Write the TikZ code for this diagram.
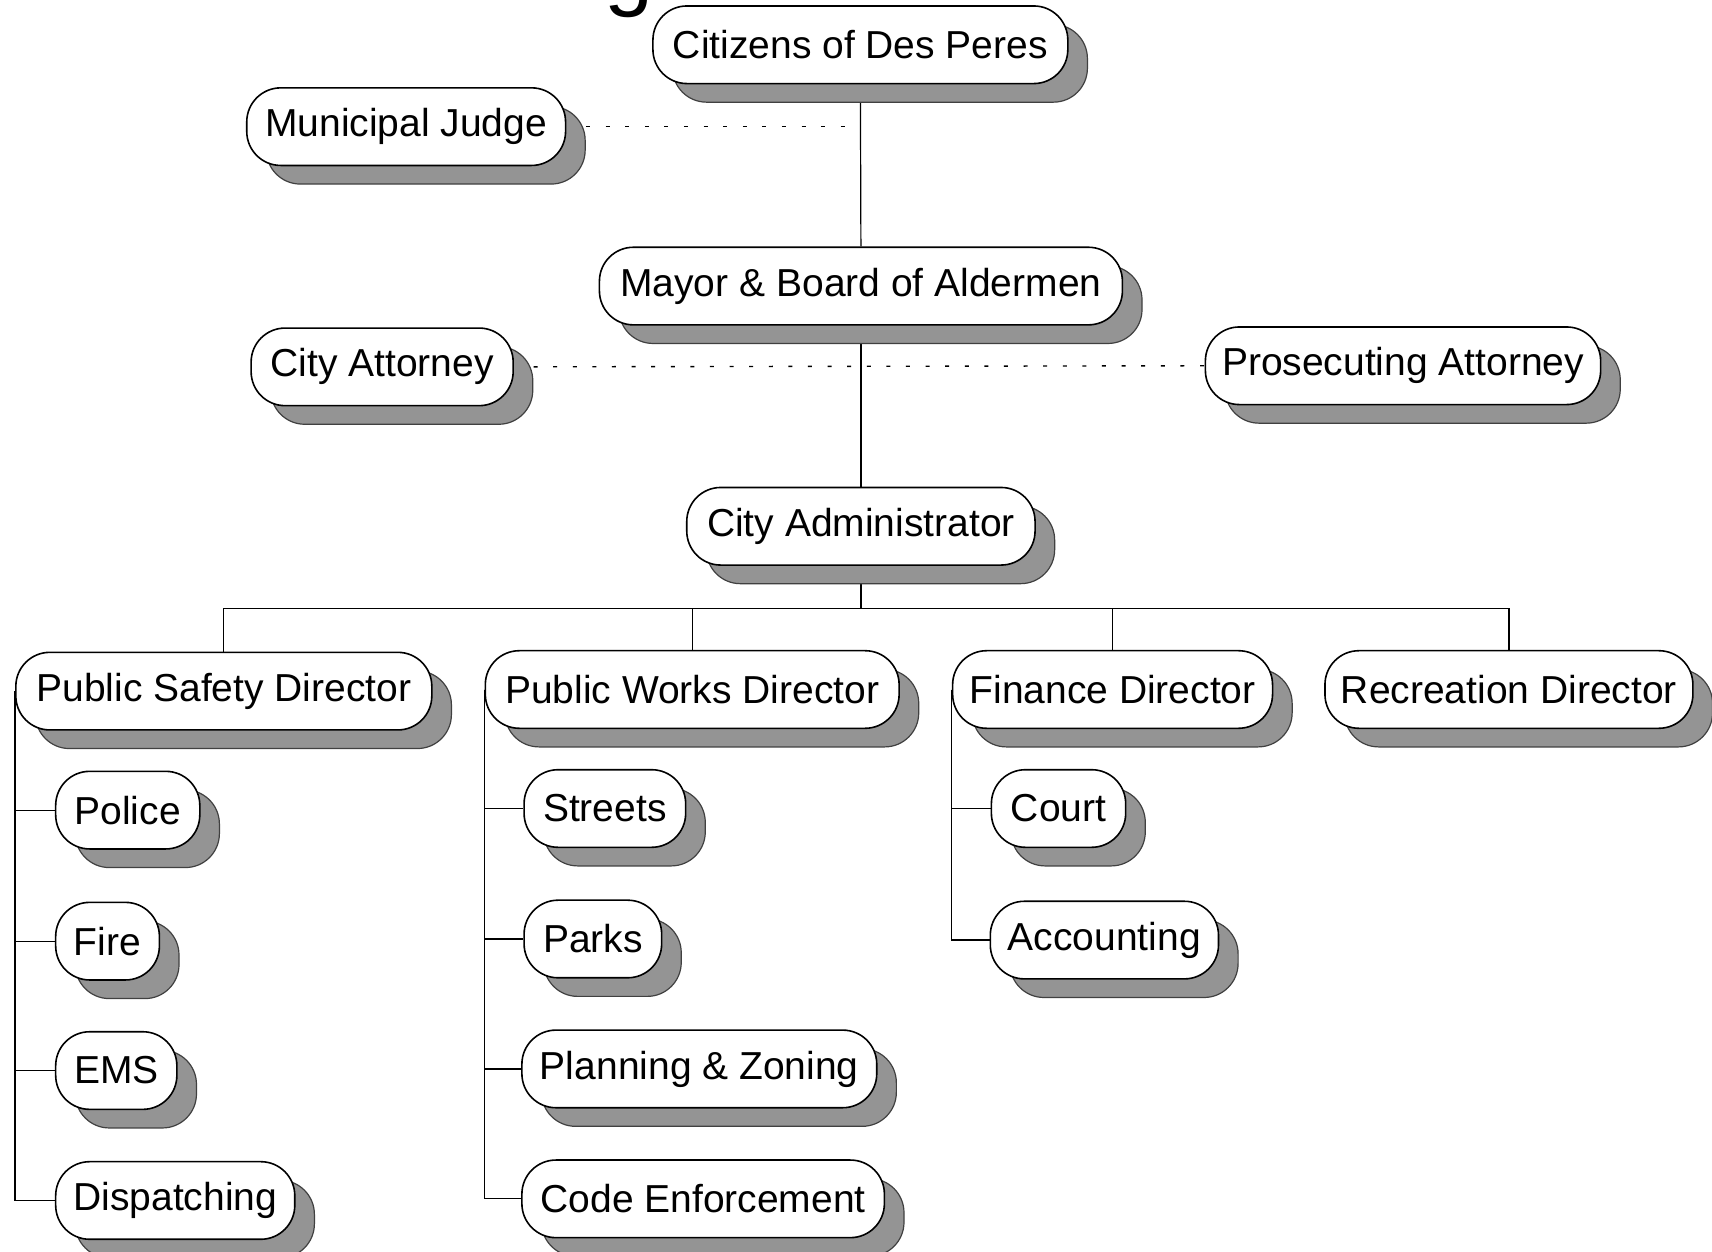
\documentclass[tikz,border=0pt]{standalone}
\usepackage{fontspec}
\setmainfont{Liberation Sans}
\usetikzlibrary{shadows,backgrounds}
\begin{document}
\begin{tikzpicture}[x=0.5459pt,y=-0.5459pt,
  orgbox/.style={draw=black, line width=0.8pt, fill=white, rectangle,
    rounded corners=17pt, inner sep=0pt, minimum height=38.8pt,
    font=\fontsize{19.5}{23}\selectfont,
    general shadow={shadow xshift=9.8pt, shadow yshift=-9.3pt,
      fill=black!42, draw=black!75, line width=0.6pt}},
  bw/.style={minimum width=#1*0.5459pt},
  conn/.style={draw=black, line width=0.6pt},
  dotline/.style={draw=black, line width=0.7pt, dash pattern=on 2pt off 7.8pt}]
\useasboundingbox (0,0) rectangle (1568,1146);
% fragment of cut-off title
\node[anchor=base west, inner sep=0pt, font=\fontsize{44}{50}\selectfont] (gfrag) at (553,0) {g};
% nodes
\node[orgbox,bw=380] (cit) at (788,41) {Citizens of Des Peres};
\node[orgbox,bw=292] (judge) at (372,116) {Municipal Judge};
\node[orgbox,bw=479] (mayor) at (788.5,262) {Mayor \& Board of Aldermen};
\node[orgbox,bw=240] (catty) at (350,336) {City Attorney};
\node[orgbox,bw=362] (patty) at (1285,335) {Prosecuting Attorney};
\node[orgbox,bw=319] (admin) at (788.5,482) {City Administrator};
\node[orgbox,bw=381] (psd) at (205,633) {Public Safety Director};
\node[orgbox,bw=379] (pwd) at (634,631.5) {Public Works Director};
\node[orgbox,bw=293] (fin) at (1019,631.5) {Finance Director};
\node[orgbox,bw=337] (rec) at (1382,631.5) {Recreation Director};
\node[orgbox,bw=132] (police) at (117,742) {Police};
\node[orgbox,bw=95] (fire) at (98.5,862) {Fire};
\node[orgbox,bw=111] (ems) at (106.5,980.5) {EMS};
\node[orgbox,bw=219] (disp) at (160.5,1099.5) {Dispatching};
\node[orgbox,bw=148] (streets) at (554,740.5) {Streets};
\node[orgbox,bw=126] (parks) at (543,860) {Parks};
\node[orgbox,bw=325] (plan) at (640.5,979) {Planning \& Zoning};
\node[orgbox,bw=332] (code) at (644,1098) {Code Enforcement};
\node[orgbox,bw=123] (court) at (969.5,740.5) {Court};
\node[orgbox,bw=209] (acct) at (1011.5,861) {Accounting};
\coordinate (bus) at (788.5,557);
\begin{scope}[on background layer]
  \fill[white] (0,0) rectangle (1568,1146);
  \draw[conn] (cit.south) -- (mayor.north);
  \draw[conn] (mayor.south) -- (admin.north);
  \draw[dotline] (judge.east) -- (judge.east -| cit.south);
  \draw[dotline] (catty.east) -- (patty.west);
  \draw[conn] (admin.south) -- (bus);
  \draw[conn] (bus -| psd.north) -- (bus -| rec.north);
  \draw[conn] (bus -| psd.north) -- (psd.north);
  \draw[conn] (bus -| pwd.north) -- (pwd.north);
  \draw[conn] (bus -| fin.north) -- (fin.north);
  \draw[conn] (bus -| rec.north) -- (rec.north);
  \draw[conn] (psd.west) |- (police.west);
  \draw[conn] (psd.west) |- (fire.west);
  \draw[conn] (psd.west) |- (ems.west);
  \draw[conn] (psd.west) |- (disp.west);
  \draw[conn] (pwd.west) |- (streets.west);
  \draw[conn] (pwd.west) |- (parks.west);
  \draw[conn] (pwd.west) |- (plan.west);
  \draw[conn] (pwd.west) |- (code.west);
  \draw[conn] (fin.west) |- (court.west);
  \draw[conn] (fin.west) |- (acct.west);
\end{scope}
\end{tikzpicture}
\end{document}
